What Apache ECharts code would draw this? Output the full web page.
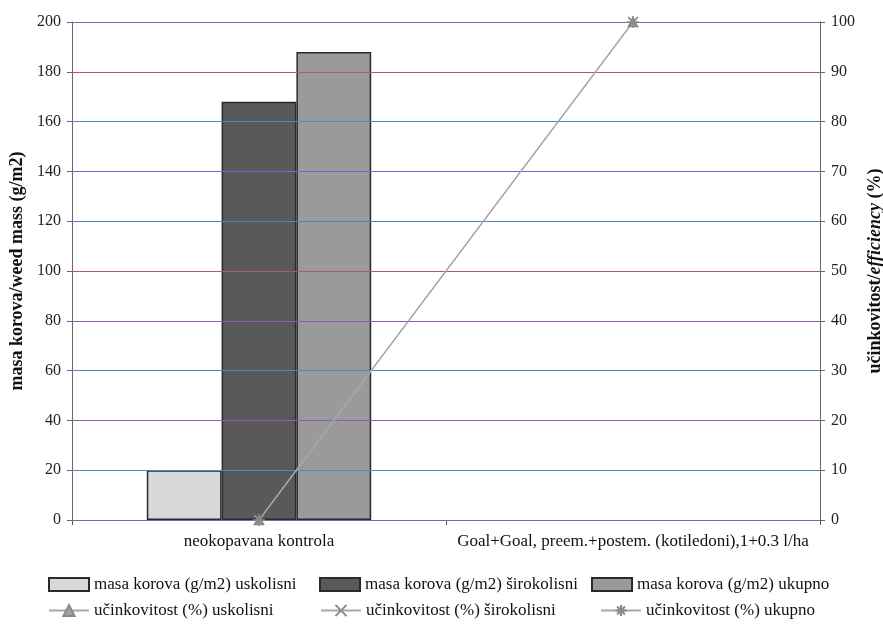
<!DOCTYPE html>
<html>
<head>
<meta charset="utf-8">
<script src="https://cdn.jsdelivr.net/npm/echarts@6/dist/echarts.min.js"></script>
<style>
  html, body { margin: 0; padding: 0; background: #fff; }
  #chart { width: 883px; height: 625px; }
</style>
</head>
<body>
<div id="chart"></div>
<script>
// Treatments on the category axis
const categories = ['neokopavana kontrola', 'Goal+Goal, preem.+postem. (kotiledoni),1+0.3 l/ha'];

// Weed mass (g/m2)
const massNarrow = [20, 0];
const massBroad = [168, 0];
const massTotal = [188, 0];

// Herbicide efficiency (%)
const effNarrow = [0, 100];
const effBroad = [0, 100];
const effTotal = [0, 100];

// Left axis ticks, each with its own gridline tint
const massTicks = [0, 20, 40, 60, 80, 100, 120, 140, 160, 180, 200];
const tickTints = ['#8a5fb0', '#4f86cc', '#9558b8', '#5080d0', '#9058b8', '#b0508e', '#5a78d0', '#6070d0', '#4a84d0', '#c8506e', '#8a5ec0'];

const barNames = ['masa korova (g/m2) uskolisni', 'masa korova (g/m2) širokolisni', 'masa korova (g/m2) ukupno'];
const lineNames = ['učinkovitost (%) uskolisni', 'učinkovitost (%) širokolisni', 'učinkovitost (%) ukupno'];

const serif = '"Liberation Serif", "DejaVu Serif", serif';
const xMark = 'path://M0,0L10,10M10,0L0,10';
const starMark = 'path://M5,0L5,10M0,5L10,5M1.5,1.5L8.5,8.5M8.5,1.5L1.5,8.5';

function barSeries(name, data, color) {
  return {
    name, type: 'bar', yAxisIndex: 0,
    // empty (zero) bars get no outline
    data: data.map(v => v === 0 ? { value: v, itemStyle: { borderWidth: 0 } } : v),
    barGap: '0%', barCategoryGap: '40%',
    itemStyle: { color, borderColor: '#2a2a2a', borderWidth: 1.5 },
    z: 3
  };
}
function lineSeries(name, data, symbol, size) {
  return {
    name, type: 'line', data, yAxisIndex: 1,
    symbol, symbolSize: size,
    lineStyle: { color: '#a8a8a8', width: 1.2 },
    itemStyle: { color: '#a0a0a0', borderColor: '#8a8a8a', borderWidth: 1.5 },
    z: 5
  };
}

const legendText = { fontFamily: serif, fontSize: 17, color: '#111' };
function legendItem(name, left, top, isBar) {
  const item = {
    data: [name], left, top, orient: 'horizontal',
    itemWidth: 40, itemHeight: isBar ? 13 : 14, itemGap: 0,
    textStyle: legendText, padding: 0, selectedMode: false
  };
  if (isBar) item.icon = 'rect';
  return item;
}

const chart = echarts.init(document.getElementById('chart'), null, { renderer: 'canvas' });
chart.setOption({
  backgroundColor: '#fff',
  animation: false,
  grid: { left: 72, right: 63, top: 22, bottom: 105, containLabel: false, outerBoundsMode: 'none' },
  legend: [
    legendItem(barNames[0], 48, 576, true),
    legendItem(barNames[1], 319, 576, true),
    legendItem(barNames[2], 591, 576, true),
    legendItem(lineNames[0], 48, 602, false),
    legendItem(lineNames[1], 320, 602, false),
    legendItem(lineNames[2], 600, 602, false)
  ],
  xAxis: {
    type: 'category', data: categories,
    axisLine: { lineStyle: { color: '#555', width: 1 } },
    axisTick: { show: true, length: 5, lineStyle: { color: '#555' } },
    axisLabel: { fontFamily: serif, fontSize: 17, color: '#111', margin: 13, interval: 0 }
  },
  yAxis: [
    {
      type: 'value', min: 0, max: 200, interval: 20, position: 'left',
      name: 'masa korova/weed mass (g/m2)', nameLocation: 'middle', nameGap: 42, nameRotate: 90,
      nameTextStyle: { fontFamily: serif, fontSize: 18, fontWeight: 'bold', color: '#111' },
      axisLine: { show: true, lineStyle: { color: '#666' } },
      axisTick: { show: true, length: 5, lineStyle: { color: '#666' } },
      axisLabel: { fontFamily: serif, fontSize: 16, color: '#222', margin: 11 },
      splitLine: { show: false }
    },
    {
      type: 'value', min: 0, max: 100, interval: 10, position: 'right',
      name: '{b|učinkovitost/}{bi|efficiency}{b| (%)}', nameLocation: 'middle', nameGap: 44, nameRotate: 90,
      nameTextStyle: {
        rich: {
          b: { fontFamily: serif, fontSize: 18, fontWeight: 'bold', color: '#111' },
          bi: { fontFamily: serif, fontSize: 18, fontWeight: 'bold', fontStyle: 'italic', color: '#111' }
        }
      },
      axisLine: { show: true, lineStyle: { color: '#666' } },
      axisTick: { show: true, length: 5, lineStyle: { color: '#666' } },
      axisLabel: { fontFamily: serif, fontSize: 16, color: '#222', margin: 11 },
      splitLine: { show: false }
    }
  ],
  series: [
    {
      // tinted horizontal gridlines behind the bars
      name: 'gridlines', type: 'line', data: [], yAxisIndex: 0, z: 1, silent: true,
      markLine: {
        silent: true, symbol: 'none', label: { show: false },
        data: massTicks.map((t, i) => ({ yAxis: t, lineStyle: { color: tickTints[i], width: 1, type: 'solid' } }))
      }
    },
    barSeries(barNames[0], massNarrow, '#d8d8d8'),
    barSeries(barNames[1], massBroad, '#595959'),
    barSeries(barNames[2], massTotal, '#9a9a9a'),
    lineSeries(lineNames[0], effNarrow, 'triangle', 9),
    lineSeries(lineNames[1], effBroad, xMark, 10),
    lineSeries(lineNames[2], effTotal, starMark, 12)
  ]
});
</script>
</body>
</html>
